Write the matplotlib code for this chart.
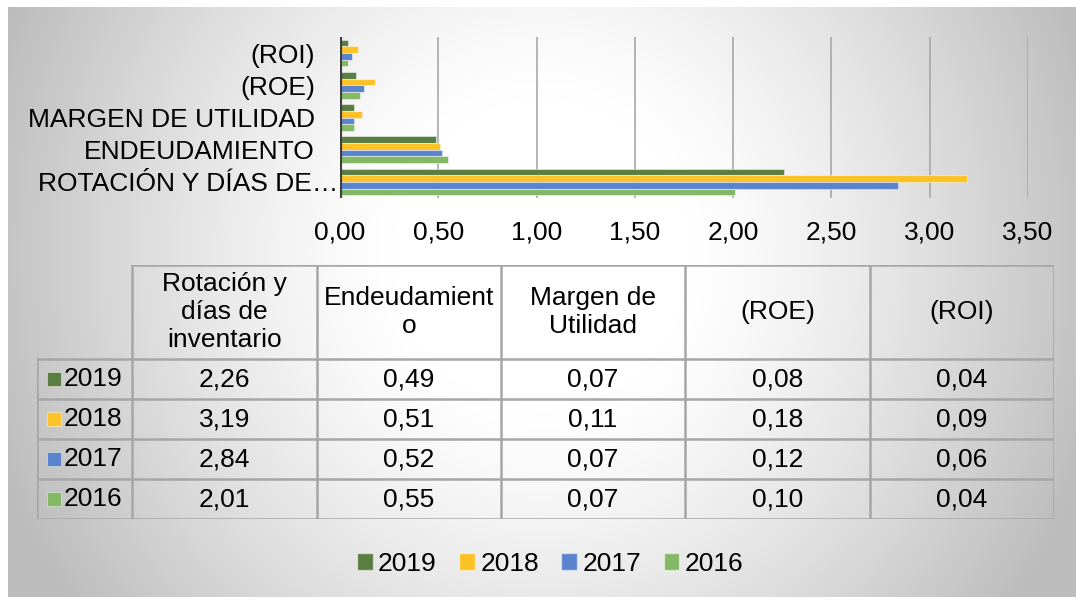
import numpy as np
import matplotlib
matplotlib.use("Agg")
import matplotlib.pyplot as plt
from matplotlib.transforms import ScaledTranslation
from matplotlib.patches import Patch

plt.rcParams['font.family'] = ['Liberation Sans', 'DejaVu Sans']

# ---------------- data ----------------
categories = ["ROTACIÓN Y DÍAS DE…", "ENDEUDAMIENTO", "MARGEN DE UTILIDAD", "(ROE)", "(ROI)"]
table_headers = ["Rotación y\ndías de\ninventario", "Endeudamient\no", "Margen de\nUtilidad", "(ROE)", "(ROI)"]
years = ["2019", "2018", "2017", "2016"]
v2019 = [2.26, 0.49, 0.07, 0.08, 0.04]
v2018 = [3.19, 0.51, 0.11, 0.18, 0.09]
v2017 = [2.84, 0.52, 0.07, 0.12, 0.06]
v2016 = [2.01, 0.55, 0.07, 0.10, 0.04]
series = [v2019, v2018, v2017, v2016]
colors = ["#5a7d42", "#fdc226", "#5b84cf", "#83b865"]
xticks = [0.0, 0.5, 1.0, 1.5, 2.0, 2.5, 3.0, 3.5]

FS = 19
W, H = 1076, 597
fig = plt.figure(figsize=(W / 100, H / 100), dpi=100)
fig.patch.set_facecolor("white")

def fx(px):
    return px / W

def fy(py):
    return 1 - py / H

# ---------------- background gradient ----------------
bg = fig.add_axes([fx(8), 0, fx(W - 8), (H - 7) / H], zorder=-10)
nx, ny = 540, 300
xx, yy = np.meshgrid(np.linspace(0, 1, nx), np.linspace(0, 1, ny))
r = np.sqrt(((xx - 0.5) / 0.5) ** 2 + ((yy - 0.42) / 0.95) ** 2)
val = 1 - 0.26 * np.clip((r - 0.28) / 0.8, 0, 1.3) ** 1.25
val = np.clip(val, 0.74, 1.0)
bg.imshow(np.dstack([val, val, val]), aspect="auto", extent=[0, 1, 1, 0], interpolation="bilinear")
bg.set_axis_off()

# ---------------- bar chart ----------------
ax_l, ax_r, ax_t, ax_b = 340, 1028, 37, 198
ax = fig.add_axes([fx(ax_l), fy(ax_b), fx(ax_r - ax_l), (ax_b - ax_t) / H])
ax.patch.set_alpha(0)
ypos = np.arange(len(categories))
h = 0.205
offsets = [1.5 * h, 0.5 * h, -0.5 * h, -1.5 * h]
for vals, col, off, yr in zip(series, colors, offsets, years):
    ax.barh(ypos + off, vals, height=h, color=col, edgecolor=(1, 1, 1, 0.45),
            linewidth=0.8, label=yr, zorder=3)
ax.set_xlim(0, 3.5)
ax.set_ylim(-0.5, len(categories) - 0.5)
ax.set_xticks(xticks)
ax.set_xticklabels([f"{t:.2f}".replace(".", ",") for t in xticks], fontsize=FS)
ax.set_yticks(ypos)
ax.set_yticklabels(categories, fontsize=FS)
ax.tick_params(axis="x", length=0, pad=16)
ax.tick_params(axis="y", length=0, pad=18)
for lab in ax.get_yticklabels():
    if lab.get_text().endswith("…"):
        lab.set_transform(lab.get_transform() + ScaledTranslation(0.23, 0, fig.dpi_scale_trans))
ax.grid(axis="x", color="#a8a8a8", linewidth=1.2, zorder=0)
for s in ax.spines.values():
    s.set_visible(False)
ax.axvline(0, color="#404040", linewidth=3, zorder=4)

# ---------------- data table ----------------
t_l, t_r, t_t, t_b = 37, 1054, 265, 519
tab = fig.add_axes([fx(t_l), fy(t_b), fx(t_r - t_l), (t_b - t_t) / H])
tab.set_axis_off()
tab.patch.set_alpha(0)
lab_w = 95 / 184.0
ncol = len(table_headers)
nrow = len(years)
hdr_h = 94 / 40.0
total_w = lab_w + ncol
total_h = hdr_h + nrow
tab.set_xlim(0, total_w)
tab.set_ylim(total_h, 0)
lc = "#a6a6a6"
lw = 1.8
tab.plot([lab_w, total_w], [0, 0], color=lc, lw=lw, solid_capstyle="projecting")
for i in range(nrow + 1):
    yv = hdr_h + i
    tab.plot([0, total_w], [yv, yv], color=lc, lw=lw, solid_capstyle="projecting")
tab.plot([0, 0], [hdr_h, total_h], color=lc, lw=lw)
for j in range(ncol + 1):
    xv = lab_w + j
    tab.plot([xv, xv], [0, total_h], color=lc, lw=lw)
for j, hd in enumerate(table_headers):
    tab.text(lab_w + j + 0.5, hdr_h / 2, hd, ha="center", va="center", fontsize=FS,
             linespacing=1.2)
for i, (yr, vals, col) in enumerate(zip(years, series, colors)):
    yc = hdr_h + i + 0.5
    tab.plot([0.09], [yc], marker="s", markersize=9.5, color=col,
             markeredgecolor=(1, 1, 1, 0.5), markeredgewidth=0.6)
    tab.text(0.145, yc, yr, ha="left", va="center", fontsize=FS)
    for j, v in enumerate(vals):
        tab.text(lab_w + j + 0.5, yc, f"{v:.2f}".replace(".", ","), ha="center",
                 va="center", fontsize=FS)

# ---------------- legend ----------------
leg_handles = [Patch(facecolor=c, edgecolor=(1, 1, 1, 0.5), label=y) for c, y in zip(colors, years)]
fig.legend(handles=leg_handles, loc="center", bbox_to_anchor=(fx(550), fy(564)), ncol=4,
           frameon=False, fontsize=FS, handlelength=0.6, handleheight=0.6,
           handletextpad=0.2, columnspacing=0.85)

fig.savefig("out.png", dpi=100, facecolor=fig.get_facecolor())
